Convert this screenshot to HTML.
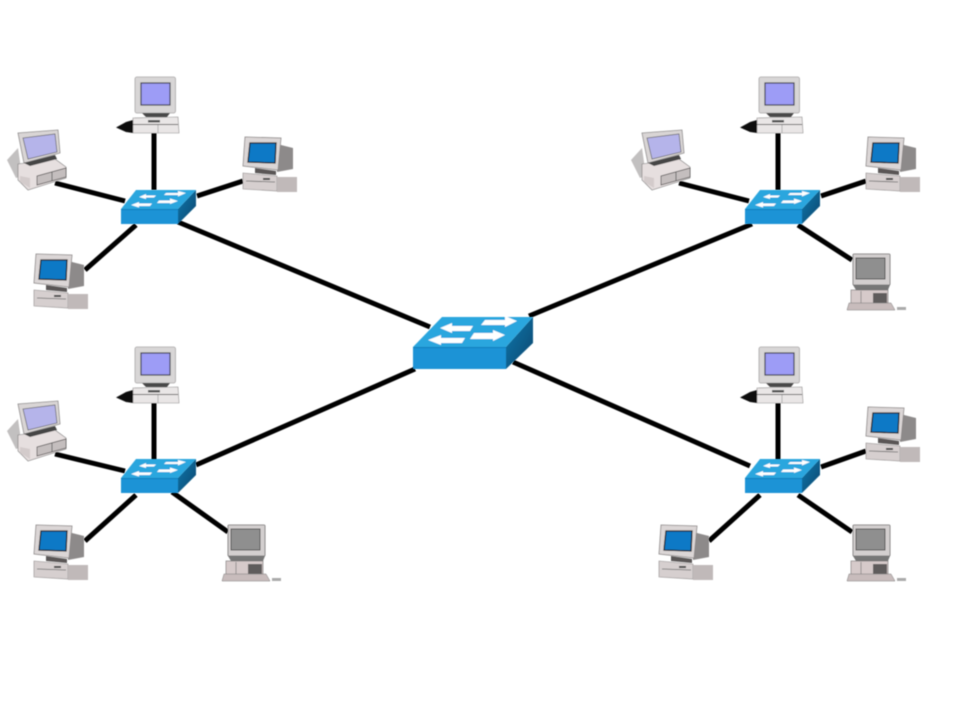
<!DOCTYPE html>
<html>
<head>
<meta charset="utf-8">
<title>Network topology</title>
<style>
html,body{margin:0;padding:0;background:#fff;width:960px;height:720px;overflow:hidden}
svg{display:block}
</style>
</head>
<body>
<svg width="960" height="720" viewBox="0 0 960 720" xmlns="http://www.w3.org/2000/svg">
<defs>
<filter id="b" x="-10%" y="-10%" width="120%" height="120%"><feGaussianBlur stdDeviation="0.6"/></filter>
<linearGradient id="side" x1="0" y1="0" x2="1" y2="1"><stop offset="0" stop-color="#1478ad"/><stop offset="1" stop-color="#07466e"/></linearGradient>
<g id="sw">
  <polygon points="121,209 136,190 196,190 178,209" fill="#2ba6de"/>
  <polygon points="121,209 178,209 178,224 121,224" fill="#1a93d6"/>
  <line x1="121" y1="209.500" x2="178" y2="209.500" stroke="#0f7dbb" stroke-width="1"/>
  <polygon points="178,209 196,190 196,206 178,224" fill="url(#side)"/>
  <g fill="#fff">
    <polygon points="139,197 146,194 146,195.500 156,195.500 154,197.500 146,197.500 146,199"/>
    <polygon points="186,193 178,196.500 178,195 164,195 166,193 178,193 178,191"/>
    <polygon points="131,205 139,202 139,203.500 152,203.500 150,206 139,206 139,207.500"/>
    <polygon points="178,201 170,204 170,203 157,203 159,200.500 170,200.500 170,198.500"/>
  </g>
</g>
<g id="cA">
  <rect x="135" y="77" width="40.500" height="36" rx="2" fill="#d8d6d6" stroke="#a8a6a6" stroke-width="0.8"/>
  <rect x="141" y="83" width="29" height="22" fill="#9d9cf6" stroke="#3c3c48" stroke-width="1.200"/>
  <polygon points="142,113 170,113 167,117 146,117" fill="#4a4848"/>
  <polygon points="133,118 178,117 179,133 133,133" fill="#e9e6e6" stroke="#8a8888" stroke-width="0.6"/>
  <line x1="133" y1="124.500" x2="178" y2="124.500" stroke="#666" stroke-width="1"/>
  <rect x="148" y="120" width="12" height="2.500" fill="#555"/>
  <line x1="158" y1="125" x2="158" y2="133" stroke="#999" stroke-width="0.7"/>
  <polygon points="116,127.500 126,122 133,120 133,133 126,132" fill="#111"/>
</g>
<g id="cB">
  <polygon points="7,160 18,148 22,176 16,178" fill="#c2c0c0"/>
  <polygon points="18,133 58,130 60,153 24,163" fill="#d9d5d5" stroke="#8c8a8a" stroke-width="0.8"/>
  <polygon points="23,138 55,134 57,152 28,159" fill="#b5b4ea" stroke="#6a6a70" stroke-width="0.8"/>
  <polygon points="18,164 55,159 66,167 66,178 28,190 18,180" fill="#e6dfdf" stroke="#777" stroke-width="0.6"/>
  <polygon points="37,176 66,168 66,177 37,185" fill="#c4bebe" stroke="#4c4a4a" stroke-width="0.7"/>
  <line x1="52" y1="172" x2="52" y2="181" stroke="#555" stroke-width="0.8"/>
  <polygon points="20,176 30,178 30,188 20,182" fill="#d3cbcb"/>
  <polygon points="24,163 55,155 57,159 30,166" fill="#444"/>
</g>
<g id="cC">
  <polygon points="277,144 293,148 293,169 277,172" fill="#8d8a8a"/>
  <polygon points="245,137 281,138 278,170 243,166" fill="#dbd6d6" stroke="#8a8686" stroke-width="0.8"/>
  <polygon points="250,143 276,143 275,163 248,162" fill="#0d79c6" stroke="#1a1a1a" stroke-width="1.300"/>
  <polygon points="255,168 276,171 276,175 255,173" fill="#5a5656"/>
  <polygon points="243,173 277,176 277,191 243,189" fill="#d6cfcf" stroke="#8c8888" stroke-width="0.6"/>
  <rect x="277" y="177" width="20" height="15" fill="#c0b9b9"/>
  <line x1="246" y1="181" x2="275" y2="182" stroke="#666" stroke-width="0.8"/>
  <rect x="263" y="178" width="7" height="2" fill="#444"/>
</g>
<g id="cD">
  <rect x="228" y="525" width="37" height="31" rx="1" fill="#d3cfcf" stroke="#6c6a6a" stroke-width="0.8"/>
  <rect x="231" y="529" width="29" height="21" fill="#8f8f8f" stroke="#3c3c3c" stroke-width="0.8"/>
  <polygon points="228,556 265,556 263,561 231,561" fill="#777"/>
  <rect x="226" y="561" width="37" height="15" fill="#d6caca" stroke="#6c6a6a" stroke-width="0.6"/>
  <rect x="248" y="564" width="14" height="10" fill="#5e5c5c"/>
  <line x1="236" y1="562" x2="236" y2="575" stroke="#777" stroke-width="0.7"/>
  <polygon points="224,574 266,574 270,581 222,581" fill="#c8bcbc" stroke="#777" stroke-width="0.5"/>
  <rect x="272" y="578" width="9" height="3" fill="#aaa"/>
</g>
</defs>

<rect width="960" height="720" fill="#fff"/>

<g stroke="#000" stroke-width="5" stroke-linecap="butt" fill="none" filter="url(#b)">
  <path d="M154 133V190M55 183L125 201M197 196L243 181M85 270L136 225M178 222L430 327"/>
  <path d="M778 133V190M679 183L749 201M821 196L866 181M798 225L852 260M529 316L752 224"/>
  <path d="M154 403V460M55 454L125 471M85 541L136 495M172 492L228 532M196 465L415 369"/>
  <path d="M778 403V460M821 467L866 451M709 541L760 495M798 495L852 532M513 362L750 466"/>
</g>

<g filter="url(#b)">
  <use href="#sw"/>
  <use href="#sw" transform="translate(624,0)"/>
  <use href="#sw" transform="translate(0,269)"/>
  <use href="#sw" transform="translate(624,269)"/>

  <polygon points="413,347 442,317 533,317 506,347" fill="#2ba6de"/>
  <polygon points="413,347 506,347 506,369 413,369" fill="#1a93d6"/>
  <line x1="413" y1="347.500" x2="506" y2="347.500" stroke="#0f7dbb" stroke-width="1"/>
  <polygon points="506,347 533,317 533,343 506,369" fill="url(#side)"/>
  <g fill="#fff">
    <polygon points="440,328 452,323 452,326 473,326 470,331 452,331 452,333"/>
    <polygon points="517,321 505,327 505,325 481,325 485,320 505,320 505,316"/>
    <polygon points="428,340 441,335 441,338 465,338 462,343 441,343 441,345"/>
    <polygon points="505,335 493,341 493,339 470,339 474,333 493,333 493,330"/>
  </g>

  <use href="#cA"/>
  <use href="#cA" transform="translate(624,0)"/>
  <use href="#cA" transform="translate(0,270)"/>
  <use href="#cA" transform="translate(624,270)"/>

  <use href="#cB"/>
  <use href="#cB" transform="translate(624,0)"/>
  <use href="#cB" transform="translate(0,271)"/>

  <use href="#cC"/>
  <use href="#cC" transform="translate(-209,117)"/>
  <use href="#cC" transform="translate(623,0)"/>
  <use href="#cC" transform="translate(-209,388)"/>
  <use href="#cC" transform="translate(623,270)"/>
  <use href="#cC" transform="translate(416,388)"/>

  <use href="#cD"/>
  <use href="#cD" transform="translate(625,0)"/>
  <use href="#cD" transform="translate(625,-271)"/>
</g>
</svg>
</body>
</html>
